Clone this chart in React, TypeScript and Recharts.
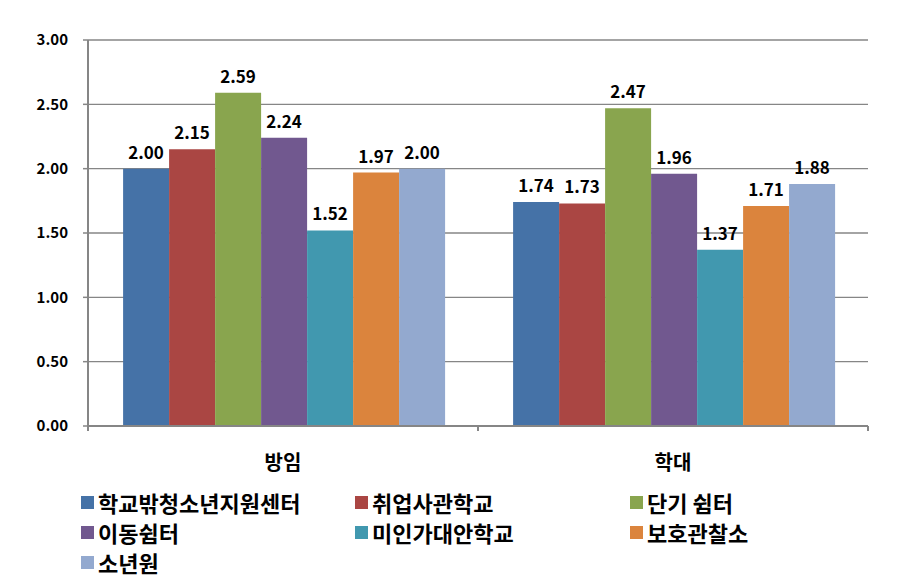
import React from "react";
import { BarChart, Bar, XAxis, YAxis, CartesianGrid, LabelList } from "recharts";

// ── Data ──
const categories = ["방임", "학대"];
const seriesNames = ["학교밖청소년지원센터", "취업사관학교", "단기 쉼터", "이동쉼터", "미인가대안학교", "보호관찰소", "소년원"];
const seriesColors = ["#4572A7", "#AA4643", "#89A54E", "#71588F", "#4198AF", "#DB843D", "#93A9CF"];
const neglectValues = [2.0, 2.15, 2.59, 2.24, 1.52, 1.97, 2.0];
const abuseValues = [1.74, 1.73, 2.47, 1.96, 1.37, 1.71, 1.88];
const yTicks = [0, 0.5, 1, 1.5, 2, 2.5, 3];

const seriesValues = [neglectValues, abuseValues];
const data = categories.map((name, ci) => {
  const row: Record<string, number | string> = { name };
  seriesNames.forEach((s, si) => {
    row[`s${si}`] = seriesValues[ci][si];
  });
  return row;
});

const FONT = "'Noto Sans CJK KR', 'Noto Sans', sans-serif";
const AXIS_GRAY = "#868686";

// ── X tick with category-boundary marks ──
function CategoryTick({ x, y, payload }: { x?: number; y?: number; payload?: { value: string } }) {
  const cx = x || 0;
  const cy = y || 0;
  const half = 195;
  return (
    <g>
      <line x1={cx - half} x2={cx - half} y1={cy} y2={cy + 5} stroke={AXIS_GRAY} strokeWidth={2} />
      <line x1={cx + half} x2={cx + half} y1={cy} y2={cy + 5} stroke={AXIS_GRAY} strokeWidth={2} />
      <text x={cx} y={cy + 44} textAnchor="middle" fontFamily={FONT} fontWeight={700} fontSize={20} fill="#000">
        {payload?.value}
      </text>
    </g>
  );
}

const legendCols = [81, 355, 630];
const legendTop = 495;
const legendRow = 30;

export default function App() {
  return (
    <div style={{ position: "absolute", left: 0, top: 0, width: 911, height: 588, background: "#fff" }}>
      <BarChart
        width={911}
        height={480}
        data={data}
        margin={{ top: 40, right: 43, left: 0, bottom: 0 }}
        barCategoryGap="9%"
        barGap={0}
      >
        <CartesianGrid vertical={false} stroke={AXIS_GRAY} strokeWidth={1.3} />
        <XAxis
          dataKey="name"
          height={54}
          tickSize={0}
          tickMargin={0}
          tickLine={false}
          axisLine={{ stroke: AXIS_GRAY, strokeWidth: 2 }}
          tick={<CategoryTick />}
          interval={0}
        />
        <YAxis
          width={88}
          domain={[0, 3]}
          ticks={yTicks}
          tickFormatter={(v: number) => v.toFixed(2)}
          tickSize={5}
          tickMargin={15}
          tickLine={{ stroke: AXIS_GRAY, strokeWidth: 1.5 }}
          axisLine={{ stroke: AXIS_GRAY, strokeWidth: 2 }}
          tick={{ fontFamily: FONT, fontWeight: 700, fontSize: 15, fill: "#000" }}
        />
        {seriesNames.map((s, si) => (
          <Bar key={s} dataKey={`s${si}`} name={s} fill={seriesColors[si]} isAnimationActive={false}>
            <LabelList
              dataKey={`s${si}`}
              position="top"
              offset={10}
              formatter={(v: number) => Number(v).toFixed(2)}
              style={{ fontFamily: FONT, fontWeight: 700, fontSize: 17, fill: "#000" }}
            />
          </Bar>
        ))}
      </BarChart>
      {seriesNames.map((s, si) => {
        const col = si % 3;
        const row = Math.floor(si / 3);
        return (
          <div
            key={s}
            style={{
              position: "absolute",
              left: legendCols[col],
              top: legendTop + row * legendRow - 8,
              display: "flex",
              alignItems: "center",
              height: 30,
              fontFamily: FONT,
              fontWeight: 700,
              fontSize: 22,
              color: "#000",
              whiteSpace: "nowrap",
            }}
          >
            <span style={{ display: "inline-block", width: 13, height: 13, background: seriesColors[si], marginRight: 4 }} />
            {s}
          </div>
        );
      })}
    </div>
  );
}
